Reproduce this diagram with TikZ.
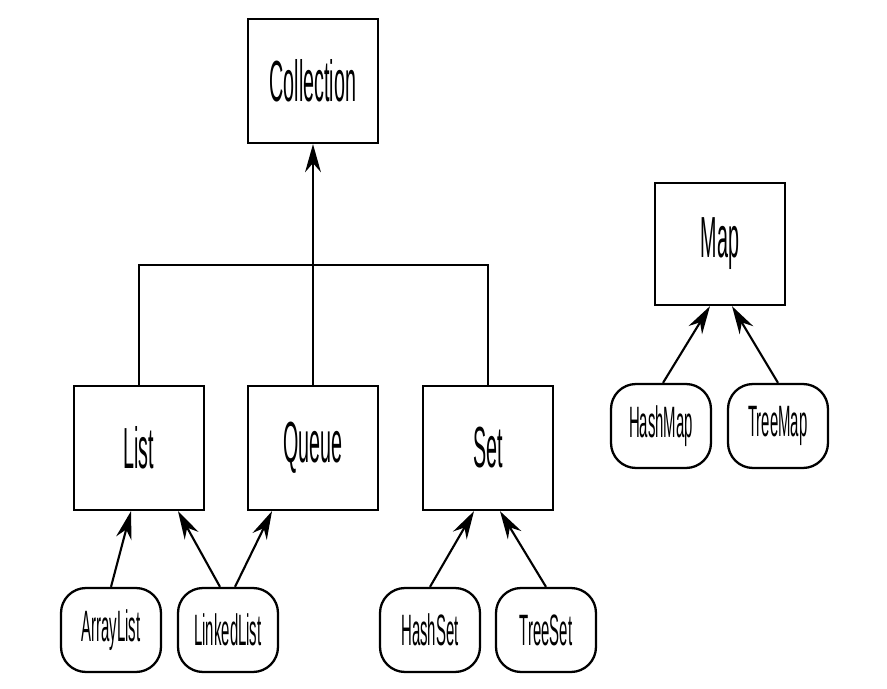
\documentclass[tikz,border=0pt]{standalone}
\usepackage{fontspec}
\setmainfont{Liberation Sans}
\newfontfamily\condfont[FakeStretch=0.34]{Liberation Sans}
\usetikzlibrary{arrows.meta}

\begin{document}
\begin{tikzpicture}[x=0.02cm,y=-0.02cm]
\tikzset{ifacebox/.style={draw,line width=1.3pt,minimum width=2.6cm,minimum height=2.48cm,inner sep=0pt,font=\condfont\fontsize{33}{33}\selectfont},
  implbox/.style={draw,line width=1.3pt,rounded corners=0.5cm,minimum width=2cm,minimum height=1.68cm,inner sep=0pt,font=\condfont\fontsize{25}{25}\selectfont},
  impl/.style={line width=1.2pt,-{Stealth[length=16pt,width=9pt]}}}
\useasboundingbox (0,0) rectangle (887,689);

\node[ifacebox] (collection) at (313,81) {Collection};
\node[ifacebox] (list) at (139,448) {List};
\node[ifacebox] (queue) at (313,448) {Queue};
\node[ifacebox] (set) at (488,448) {Set};
\node[ifacebox,minimum height=2.44cm] (map) at (720,244) {Map};

\node[implbox] (arraylist) at (111,630) {ArrayList};
\node[implbox] (linkedlist) at (228,630) {LinkedList};
\node[implbox] (hashset) at (430,630) {HashSet};
\node[implbox] (treeset) at (546,630) {TreeSet};
\node[implbox] (hashmap) at (661,426) {HashMap};
\node[implbox] (treemap) at (778,426) {TreeMap};

\coordinate (bar) at (313,265);
\draw[line width=1.2pt] (list.north) |- (bar) -| (set.north);
\draw[impl] (queue.north) -- (collection.south);

\draw[impl] (arraylist.north) -- ([xshift=-0.16cm]list.south);
\draw[impl] ([xshift=-0.16cm]linkedlist.north) -- ([xshift=0.78cm]list.south);
\draw[impl] ([xshift=0.14cm]linkedlist.north) -- ([xshift=-0.82cm]queue.south);
\draw[impl] (hashset.north) -- ([xshift=-0.28cm]set.south);
\draw[impl] (treeset.north) -- ([xshift=0.24cm]set.south);
\draw[impl] ([xshift=0.04cm]hashmap.north) -- ([xshift=-0.2cm]map.south);
\draw[impl] (treemap.north) -- ([xshift=0.24cm]map.south);

\end{tikzpicture}
\end{document}
